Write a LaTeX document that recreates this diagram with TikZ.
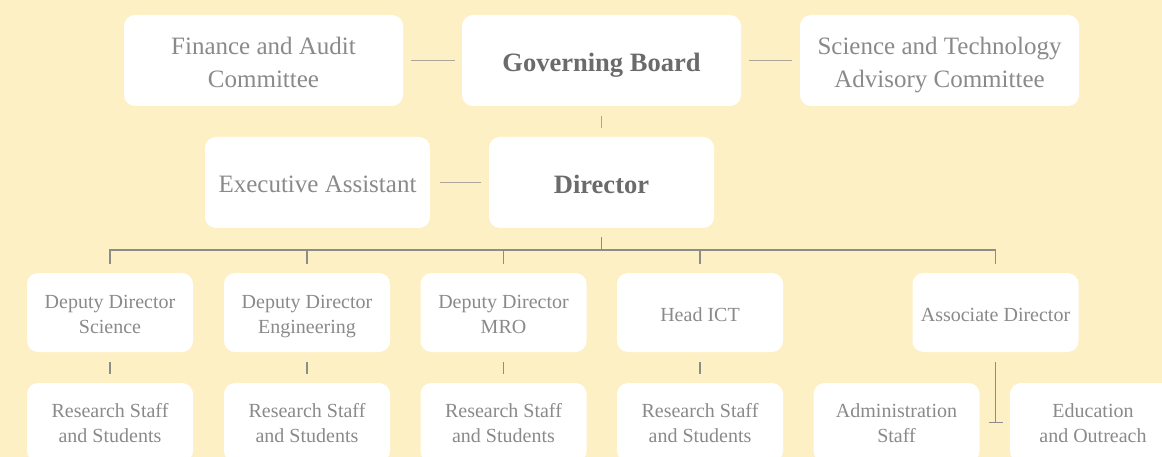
\documentclass[tikz,border=0pt]{standalone}
\usepackage{fontspec}
\setmainfont{Liberation Serif}
\usepackage{tikz}
\usetikzlibrary{shapes,positioning,calc}
\definecolor{cream}{HTML}{FEF0C5}
\definecolor{txtgray}{HTML}{8A8A8A}
\definecolor{headgray}{HTML}{6B6B6B}
\definecolor{linktop}{HTML}{ADA799}
\definecolor{linktree}{HTML}{8E8C86}
\tikzstyle{block} = [rectangle, fill=white, rounded corners=11pt, text=txtgray,
    align=center, inner sep=0pt, text centered]
\tikzstyle{wide} = [block, minimum width=279pt, minimum height=91pt,
    font=\fontsize{25}{33}\selectfont, text height=53.6pt, text depth=0pt]
\tikzstyle{mid} = [block, minimum width=225pt, minimum height=91pt,
    font=\fontsize{25}{33}\selectfont, text height=20pt, text depth=0pt]
\tikzstyle{unit} = [block, minimum width=166pt, minimum height=79pt,
    font=\fontsize{20}{24.5}\selectfont, text height=41.6pt, text depth=0pt]
\tikzstyle{staff} = [unit, text height=39.6pt]
\tikzstyle{single} = [text height=17pt, text depth=0pt]
\tikzstyle{head} = [text=headgray, font=\fontsize{26.5}{33}\selectfont\bfseries,
    text height=21.5pt, text depth=0pt]
\tikzstyle{line} = [draw, linktop, line width=1.4pt]
\tikzstyle{tree} = [draw, linktree, line width=1.3pt]

\begin{document}
\begin{tikzpicture}[x=1pt, y=1pt, node distance=338pt]
	\fill [cream] (0,0) rectangle (1162,-457);
	\clip (0,0) rectangle (1162,-457);
	% Place nodes
	\node [wide, head] (board) at (601.5,-60.5) {Governing Board};
	\node [wide, left of=board] (finance) {Finance and Audit\\Committee};
	\node [wide, right of=board] (sciadv) {Science and Technology\\Advisory Committee};
	\node [mid, head, below of=board, node distance=122pt] (director) {Director};
	\node [mid, left of=director, node distance=284pt] (exec) {Executive Assistant};

	\node [unit] (dsci) at (110,-312.5) {Deputy Director\\Science};
	\node [unit, right of=dsci, node distance=197pt] (deng) {Deputy Director\\Engineering};
	\node [unit, right of=deng, node distance=196.5pt] (dmro) {Deputy Director\\MRO};
	\node [unit, single, right of=dmro, node distance=196.5pt] (ict) {Head ICT};
	\node [unit, single, right of=ict, node distance=295.5pt] (assoc) {Associate Director};

	\node [staff, below of=dsci, node distance=110pt] (rs1) {Research Staff\\and Students};
	\node [staff, below of=deng, node distance=110pt] (rs2) {Research Staff\\and Students};
	\node [staff, below of=dmro, node distance=110pt] (rs3) {Research Staff\\and Students};
	\node [staff, below of=ict, node distance=110pt] (rs4) {Research Staff\\and Students};
	\node [staff] (admin) at (896.5,-422.5) {Administration\\Staff};
	\node [staff, right of=admin, node distance=196.5pt] (edu) {Education\\and Outreach};

	% Draw edges
	\path [line] ([xshift=8pt]finance.east) -- ([xshift=-7pt]board.west);
	\path [line] ([xshift=8pt]board.east) -- ([xshift=-8pt]sciadv.west);
	\path [line] ([xshift=10pt]exec.east) -- ([xshift=-8pt]director.west);
	\path [line] ([yshift=-10pt]board.south) -- ([yshift=9pt]director.north);

	\coordinate (bus) at (601.5,-250);
	\path [tree] ([yshift=-9pt]director.south) -- (bus);
	\path [tree] ([yshift=9pt]dsci.north) |- (bus -| assoc.north) -- ([yshift=9pt]assoc.north);
	\foreach \n in {deng,dmro,ict}
		\path [tree] (bus -| \n.north) -- ([yshift=9pt]\n.north);
	\path [tree] ([yshift=-10pt]dsci.south) -- ([yshift=9pt]rs1.north);
	\path [tree] ([yshift=-10pt]deng.south) -- ([yshift=9pt]rs2.north);
	\path [tree] ([yshift=-10pt]dmro.south) -- ([yshift=9pt]rs3.north);
	\path [tree] ([yshift=-10pt]ict.south) -- ([yshift=9pt]rs4.north);

	\coordinate (tee) at (assoc.south |- admin.center);
	\path [tree] ([yshift=-10pt]assoc.south) -- (tee);
	\path [tree] ([xshift=-7pt]tee) -- ([xshift=7pt]tee);
\end{tikzpicture}
\end{document}
